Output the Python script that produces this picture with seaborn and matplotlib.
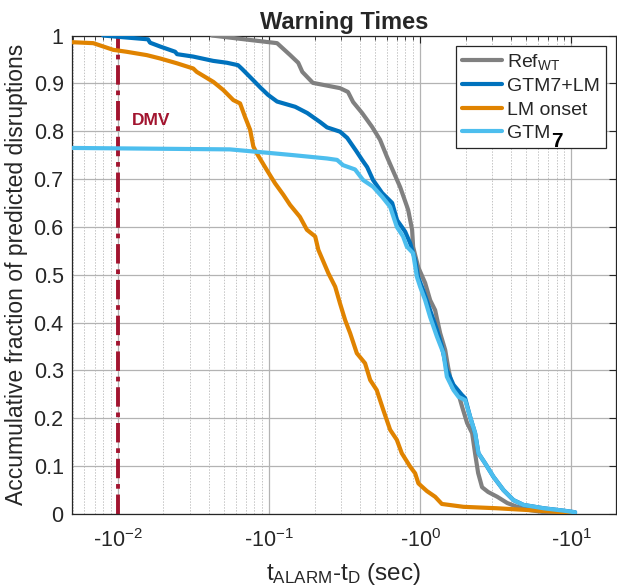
import numpy as np
import pandas as pd
import matplotlib
matplotlib.use("Agg")
import matplotlib.pyplot as plt
import matplotlib.ticker as mticker
from matplotlib.lines import Line2D
import seaborn as sns

# ---------------- data (warning time magnitude |t_ALARM - t_D| in s, accumulated fraction) ----
ref_t = [0.0419, 0.113, 0.138, 0.156, 0.166, 0.195, 0.295, 0.333, 0.360, 0.413, 0.481, 0.543,
         0.604, 0.738, 0.820, 0.834, 0.885, 0.899, 0.971, 1.079, 1.165, 1.257, 1.357, 1.465,
         1.532, 1.629, 1.786, 1.897, 2.047, 2.21, 2.31, 2.42, 2.57, 2.82, 3.24, 3.77, 4.39,
         5.35, 6.53, 8.85]
ref_f = [1.0, 0.984, 0.959, 0.943, 0.924, 0.901, 0.890, 0.882, 0.861, 0.838, 0.809, 0.782,
         0.746, 0.683, 0.642, 0.635, 0.594, 0.558, 0.516, 0.483, 0.447, 0.426, 0.378, 0.343,
         0.307, 0.265, 0.253, 0.224, 0.190, 0.169, 0.127, 0.086, 0.056, 0.046, 0.036, 0.023,
         0.015, 0.008, 0.004, 0.002]

gtmlm_t = [0.00796, 0.00985, 0.0158, 0.0163, 0.0190, 0.0239, 0.0246, 0.0314, 0.0426, 0.0527,
           0.0623, 0.0663, 0.0783, 0.0871, 0.0984, 0.113, 0.149, 0.179, 0.218, 0.242, 0.295,
           0.329, 0.377, 0.413, 0.446, 0.488, 0.560, 0.653, 0.704, 0.796, 0.859, 0.927, 0.970,
           1.047, 1.164, 1.291, 1.393, 1.503, 1.663, 1.889, 1.986, 2.143, 2.312, 2.432, 2.692,
           3.055, 3.562, 4.149, 4.831, 6.556, 8.892, 10.62]
gtmlm_f = [1.0, 0.9975, 0.992, 0.985, 0.977, 0.966, 0.961, 0.956, 0.947, 0.943, 0.938, 0.930,
           0.907, 0.892, 0.876, 0.862, 0.851, 0.838, 0.819, 0.808, 0.799, 0.786, 0.759, 0.740,
           0.725, 0.698, 0.671, 0.650, 0.614, 0.590, 0.566, 0.531, 0.495, 0.468, 0.426, 0.385,
           0.350, 0.301, 0.270, 0.249, 0.242, 0.203, 0.169, 0.127, 0.106, 0.078, 0.050, 0.029,
           0.019, 0.012, 0.007, 0.0036]

lm_t = [0.00496, 0.00686, 0.00931, 0.0114, 0.0155, 0.0190, 0.0245, 0.0315, 0.0332, 0.0428,
        0.0498, 0.0580, 0.0643, 0.0693, 0.0749, 0.0787, 0.0829, 0.0966, 0.1096, 0.1244, 0.1377,
        0.160, 0.178, 0.202, 0.212, 0.247, 0.274, 0.295, 0.319, 0.344, 0.381, 0.432, 0.467,
        0.516, 0.571, 0.633, 0.701, 0.756, 0.859, 0.927, 0.974, 1.108, 1.257, 1.393, 1.936,
        3.221, 5.35, 9.84]
lm_f = [0.986, 0.984, 0.970, 0.966, 0.959, 0.952, 0.942, 0.931, 0.924, 0.903, 0.886, 0.865,
        0.858, 0.830, 0.803, 0.768, 0.754, 0.719, 0.691, 0.667, 0.646, 0.621, 0.594, 0.580,
        0.552, 0.503, 0.475, 0.440, 0.405, 0.378, 0.336, 0.315, 0.280, 0.259, 0.217, 0.176,
        0.155, 0.127, 0.099, 0.085, 0.064, 0.048, 0.036, 0.021, 0.015, 0.012, 0.008, 0.003]

gtm_t = [0.00496, 0.055, 0.097, 0.144, 0.242, 0.282, 0.309, 0.371, 0.419, 0.488, 0.560, 0.633,
         0.701, 0.771, 0.816, 0.899, 0.951, 1.0, 1.079, 1.164, 1.291, 1.426, 1.503, 1.663,
         1.794, 1.986, 2.143, 2.312, 2.432, 2.692, 3.055, 3.562, 4.149, 4.831, 6.556, 8.892,
         10.62]
gtm_f = [0.765, 0.762, 0.755, 0.750, 0.743, 0.740, 0.729, 0.720, 0.698, 0.684, 0.663, 0.642,
         0.600, 0.580, 0.559, 0.545, 0.496, 0.475, 0.447, 0.412, 0.371, 0.336, 0.287, 0.259,
         0.245, 0.238, 0.203, 0.169, 0.127, 0.106, 0.078, 0.050, 0.029, 0.019, 0.012, 0.007,
         0.0036]

series_names = ["Ref_WT", "GTM7+LM", "LM onset", "GTM7"]
legend_labels = [r"Ref$_{\mathrm{WT}}$", "GTM7+LM", "LM onset", "GTM"]
legend_suffix = "7"   # drawn bold and lowered after the last legend label "GTM"
colors = ["#808080", "#0072BD", "#E08300", "#4DBEEE"]
dmv_time = 0.01
x_ticks = [0.01, 0.1, 1, 10]
x_tick_labels = [r"-10$^{\mathrm{-2}}$", r"-10$^{\mathrm{-1}}$", r"-10$^{\mathrm{0}}$", r"-10$^{\mathrm{1}}$"]
y_ticks = [0, 0.1, 0.2, 0.3, 0.4, 0.5, 0.6, 0.7, 0.8, 0.9, 1]
y_tick_labels = ["0", "0.1", "0.2", "0.3", "0.4", "0.5", "0.6", "0.7", "0.8", "0.9", "1"]

frames = []
for name, t, f in zip(series_names, [ref_t, gtmlm_t, lm_t, gtm_t], [ref_f, gtmlm_f, lm_f, gtm_f]):
    frames.append(pd.DataFrame({"t": t, "frac": f, "series": name}))
df = pd.concat(frames, ignore_index=True)

# ---------------- style ----------------
sns.set_theme(style="white")
plt.rcParams["font.family"] = ["Liberation Sans", "DejaVu Sans"]
plt.rcParams["mathtext.fontset"] = "custom"
plt.rcParams["mathtext.rm"] = "Liberation Sans"
plt.rcParams["mathtext.it"] = "Liberation Sans:italic"
plt.rcParams["mathtext.bf"] = "Liberation Sans:bold"

fig = plt.figure(figsize=(6.17, 5.88), dpi=100)
ax = fig.add_axes([72 / 617, 1 - 514 / 588, (616 - 72) / 617, (514 - 35.5) / 588])

ax.axvline(dmv_time, color="#A2142F", lw=2.8, ls=(0, (5, 1.5, 1.2, 1.5)), zorder=2)

for name, col in zip(series_names, colors):
    sns.lineplot(data=df[df["series"] == name], x="t", y="frac", color=col, lw=3.0,
                 estimator=None, sort=False, ax=ax, legend=False, zorder=3)

ax.set_xscale("log")
ax.set_xlim(0.00496, 19.8)
ax.set_ylim(0, 1)

ax.xaxis.set_major_locator(mticker.FixedLocator(x_ticks))
ax.xaxis.set_major_formatter(mticker.FixedFormatter(x_tick_labels))
ax.xaxis.set_minor_locator(mticker.LogLocator(base=10, subs=np.arange(2, 10)))
ax.xaxis.set_minor_formatter(mticker.NullFormatter())
ax.set_yticks(y_ticks)
ax.set_yticklabels(y_tick_labels)

ax.tick_params(axis="both", which="both", direction="in", top=True, right=True,
               colors="#262626")
ax.tick_params(axis="y", which="major", labelsize=15.5, pad=6)
ax.tick_params(axis="x", which="major", labelsize=15.5, pad=11)
ax.tick_params(axis="both", which="major", length=5, width=0.8)
ax.tick_params(axis="x", which="minor", length=3, width=0.6)

ax.grid(True, which="major", axis="both", color="#b3b3b3", lw=0.9, ls="-")
ax.grid(True, which="minor", axis="x", color="#c4c4c4", lw=0.7, ls=(0, (1.5, 1.5)))
ax.set_axisbelow(True)
for sp in ax.spines.values():
    sp.set_color("#262626")
    sp.set_linewidth(0.9)

ax.text(0.0124, 0.823, "DMV", color="#A2142F", fontsize=12.5, fontweight="bold",
        va="center", ha="left")

ax.set_title("Warning Times", fontsize=17, fontweight="bold", pad=5)
ax.set_xlabel(r"t$_{\mathrm{ALARM}}$-t$_{\mathrm{D}}$ (sec)", fontsize=17.5, labelpad=6)
ax.set_ylabel("Accumulative fraction of predicted disruptions", fontsize=16.5)
ax.yaxis.set_label_coords(-0.081, 0.5)

handles = [Line2D([0], [0], color=c, lw=3.0) for c in colors]
leg = ax.legend(handles, legend_labels, loc="upper right", bbox_to_anchor=(0.9816, 0.978),
                borderaxespad=0, fontsize=14, handlelength=2.06, handletextpad=0.26,
                labelspacing=0.3, borderpad=0.3, frameon=True, fancybox=False, framealpha=1)
leg.get_frame().set_edgecolor("#262626")
leg.get_frame().set_linewidth(0.9)

# bold, lowered "7" after "GTM" in the last legend entry
fig.canvas.draw()
renderer = fig.canvas.get_renderer()
bb = leg.get_texts()[3].get_window_extent(renderer)
fig.text((bb.x1 + 0.5) / fig.bbox.width, (bb.y0 + 1) / fig.bbox.height, legend_suffix,
         fontsize=15, fontweight="bold", color="#000000", ha="left", va="center")

fig.savefig("out.png", dpi=100)
